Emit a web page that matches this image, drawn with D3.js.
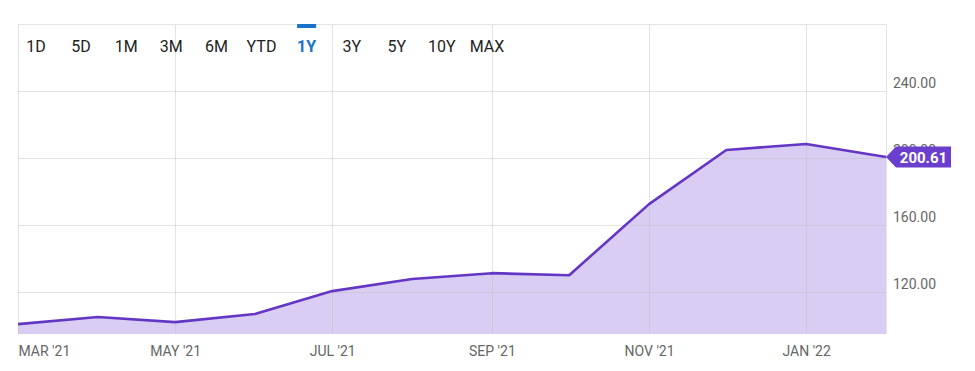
<!DOCTYPE html>
<html><head><meta charset="utf-8">
<script src="https://cdn.jsdelivr.net/npm/d3@7"></script>
<style>
html,body{margin:0;padding:0;background:#fff;}
svg{display:block;font-family:Roboto,"Noto Sans",sans-serif;}
</style></head>
<body>
<svg id="chart" width="975" height="371"></svg>
<script>
const months = ["2021-03-01","2021-04-01","2021-05-01","2021-06-01","2021-07-01","2021-08-01","2021-09-01","2021-10-01","2021-11-01","2021-12-01","2022-01-01","2022-02-01"];
const prices = [100.9, 105.1, 102.1, 106.9, 120.6, 127.8, 131.3, 130.1, 172.5, 204.8, 208.4, 200.61];
const yTicks = [120, 160, 200, 240];
const xTickDates = ["2021-03-01","2021-05-01","2021-07-01","2021-09-01","2021-11-01","2022-01-01"];
const xTickLabels = ["MAR '21","MAY '21","JUL '21","SEP '21","NOV '21","JAN '22"];
const ranges = ["1D","5D","1M","3M","6M","YTD","1Y","3Y","5Y","10Y","MAX"];
const activeRange = "1Y";
const lastLabel = "200.61";

(function(){
const parse = d3.timeParse("%Y-%m-%d");
const data = months.map((m,i)=>({date:parse(m), value:prices[i]}));

const pL = 18, pR = 886, pT = 24, pB = 334;
const svg = d3.select("#chart");
const x = d3.scaleTime().domain([parse(months[0]), parse(months[months.length-1])]).range([pL,pR]);
const y = d3.scaleLinear().domain([95, 280]).range([pB, pT]);

// area
const area = d3.area().x(d=>x(d.date)).y0(pB).y1(d=>y(d.value));
svg.append("path").datum(data).attr("d", area).attr("fill", "#d9cdf3");

// grid
const grid = svg.append("g");
yTicks.forEach(t=>{
  grid.append("line").attr("x1",pL).attr("x2",pR).attr("y1",Math.round(y(t))+0.5).attr("y2",Math.round(y(t))+0.5)
    .attr("stroke","#bdbdbd").attr("stroke-opacity",0.42).attr("stroke-width",1);
});
xTickDates.forEach(d=>{
  const xx = Math.round(x(parse(d)))+0.5;
  grid.append("line").attr("x1",xx).attr("x2",xx).attr("y1",pT).attr("y2",pB)
    .attr("stroke","#bdbdbd").attr("stroke-opacity",0.42);
});
grid.append("line").attr("x1",pR+0.5).attr("x2",pR+0.5).attr("y1",pT).attr("y2",pB).attr("stroke","#e3e3e3");
grid.append("line").attr("x1",pL).attr("x2",pR).attr("y1",pT+0.5).attr("y2",pT+0.5).attr("stroke","#e3e3e3");

// line
const line = d3.line().x(d=>x(d.date)).y(d=>y(d.value));
svg.append("path").datum(data).attr("d", line).attr("fill","none").attr("stroke","#6436c4").attr("stroke-width",2.6).attr("stroke-linejoin","round");

// y axis labels (sit just above their gridlines)
const yAxis = d3.axisRight(y).tickValues(yTicks).tickSize(0).tickPadding(0).tickFormat(d3.format(".2f"));
const ya = svg.append("g").attr("transform",`translate(${pR+7},-8)`).call(yAxis);
ya.select(".domain").remove();
ya.selectAll("text").attr("font-size",14).attr("fill","#666").attr("font-family","Roboto,sans-serif");

// x axis labels
const xAxis = d3.axisBottom(x).tickValues(xTickDates.map(parse)).tickSize(0).tickPadding(0)
  .tickFormat((d,i)=>xTickLabels[i]);
const xa = svg.append("g").attr("transform",`translate(0,${pB+12})`).call(xAxis);
xa.select(".domain").remove();
xa.selectAll("text").attr("font-size",14).attr("fill","#666").attr("font-family","Roboto,sans-serif");
xa.selectAll("text").filter((d,i)=>i===0).attr("text-anchor","start");

// badge
const last = data[data.length-1];
const bx = x(last.date), by = y(last.value);
const bw = 55, bh = 21;
svg.append("path")
  .attr("d",`M${bx},${by} L${bx+10},${by-bh/2} L${bx+10+bw},${by-bh/2} L${bx+10+bw},${by+bh/2} L${bx+10},${by+bh/2} Z`)
  .attr("fill","#6b3fcd");
svg.append("text").attr("x",bx+10+bw/2).attr("y",by+5.5).attr("text-anchor","middle")
  .attr("font-size",15).attr("font-weight","bold").attr("fill","#fff").text(lastLabel);

// range buttons
const bxPos = d3.scalePoint().domain(ranges).range([36, 487]);
const btns = svg.append("g");
ranges.forEach(r=>{
  btns.append("text").attr("x",bxPos(r)).attr("y",52).attr("text-anchor","middle")
    .attr("font-size",16).attr("font-weight", r===activeRange?"bold":"normal")
    .attr("fill", r===activeRange?"#1a73c8":"#222").text(r);
});
svg.append("rect").attr("x",bxPos(activeRange)-9.5).attr("y",24).attr("width",19).attr("height",4).attr("fill","#1a73c8");
})();
</script>
</body></html>
